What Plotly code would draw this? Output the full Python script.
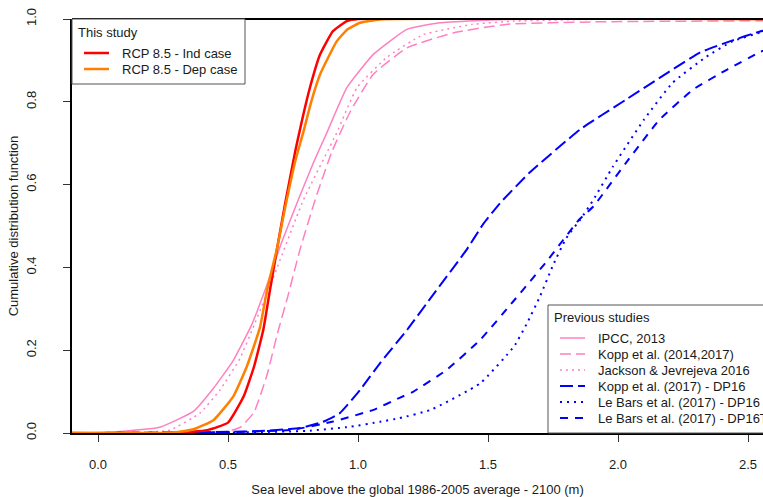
import plotly.graph_objects as go

# ---------------- data ----------------
x_ind = [-0.1, 0.3, 0.42, 0.5, 0.56, 0.6, 0.636, 0.66, 0.69, 0.72, 0.76, 0.79, 0.815, 0.854, 0.904, 0.957, 1.0, 2.6]
y_ind = [0, 0, 0.007, 0.025, 0.088, 0.16, 0.25, 0.34, 0.45, 0.555, 0.685, 0.77, 0.834, 0.914, 0.971, 0.995, 1.0, 1.0]

x_dep = [-0.1, 0.2, 0.3, 0.367, 0.444, 0.52, 0.572, 0.623, 0.65, 0.69, 0.72, 0.76, 0.789, 0.82, 0.854, 0.918, 0.96, 1.008, 1.085, 2.6]
y_dep = [0, 0, 0.002, 0.009, 0.031, 0.088, 0.16, 0.255, 0.345, 0.45, 0.545, 0.66, 0.725, 0.80, 0.866, 0.946, 0.975, 0.991, 0.999, 1.0]

x_ipcc = [-0.1, 0.0, 0.11, 0.238, 0.367, 0.444, 0.52, 0.59, 0.65, 0.7, 0.77, 0.83, 0.88, 0.957, 1.058, 1.188, 1.315, 1.45, 1.57, 1.8, 2.6]
y_ipcc = [0, 0.001, 0.005, 0.014, 0.052, 0.108, 0.175, 0.26, 0.358, 0.45, 0.563, 0.655, 0.725, 0.834, 0.914, 0.975, 0.991, 0.996, 0.999, 1.0, 1.0]

x_kopp = [-0.1, 0.4, 0.5, 0.55, 0.6, 0.65, 0.69, 0.73, 0.777, 0.835, 0.9, 0.97, 1.058, 1.19, 1.37, 1.57, 1.9, 2.6]
y_kopp = [0, 0, 0.004, 0.015, 0.05, 0.14, 0.24, 0.33, 0.443, 0.563, 0.68, 0.776, 0.866, 0.931, 0.967, 0.987, 0.993, 0.996]

x_jj = [-0.1, 0.15, 0.277, 0.392, 0.469, 0.546, 0.6, 0.668, 0.79, 0.918, 0.996, 1.11, 1.25, 1.44, 1.6, 1.9, 2.6]
y_jj = [0, 0, 0.007, 0.048, 0.104, 0.18, 0.26, 0.365, 0.563, 0.725, 0.834, 0.907, 0.962, 0.987, 0.995, 0.999, 1.0]

x_kdp = [-0.1, 0.3, 0.6, 0.777, 0.865, 0.93, 1.008, 1.085, 1.19, 1.29, 1.418, 1.482, 1.546, 1.66, 1.854, 2.03, 2.19, 2.315, 2.43, 2.546, 2.6]
y_kdp = [0, 0.001, 0.004, 0.012, 0.027, 0.048, 0.104, 0.169, 0.25, 0.335, 0.443, 0.505, 0.555, 0.629, 0.733, 0.805, 0.870, 0.919, 0.946, 0.97, 0.975]

x_lb = [-0.1, 0.5, 0.8, 0.97, 1.085, 1.16, 1.28, 1.47, 1.6, 1.65, 1.7, 1.75, 1.8, 1.86, 1.905, 1.98, 2.1, 2.21, 2.34, 2.44, 2.546, 2.6]
y_lb = [0, 0.001, 0.005, 0.015, 0.027, 0.036, 0.056, 0.12, 0.209, 0.265, 0.33, 0.405, 0.47, 0.52, 0.563, 0.643, 0.757, 0.846, 0.909, 0.946, 0.967, 0.972]

x_lbt = [-0.1, 0.5, 0.75, 0.9, 1.06, 1.16, 1.21, 1.34, 1.47, 1.6, 1.73, 1.85, 1.905, 2.03, 2.16, 2.29, 2.42, 2.546, 2.6]
y_lbt = [0, 0.002, 0.008, 0.027, 0.056, 0.085, 0.099, 0.152, 0.225, 0.32, 0.418, 0.515, 0.547, 0.652, 0.757, 0.83, 0.878, 0.92, 0.935]

x_ticks = [0.0, 0.5, 1.0, 1.5, 2.0, 2.5]
x_tick_labels = ["0.0", "0.5", "1.0", "1.5", "2.0", "2.5"]
y_ticks = [0.0, 0.2, 0.4, 0.6, 0.8, 1.0]
y_tick_labels = ["0.0", "0.2", "0.4", "0.6", "0.8", "1.0"]

legend1_title = "This study"
legend2_title = "Previous studies"

# ---------------- styles ----------------
RED = "#FF0000"
ORANGE = "#FF7F00"
PINK = "#FF80C0"
BLUE = "#0000FF"
FONT = "Liberation Sans, Arial, sans-serif"
TXT = "#1a1a1a"

series = [
    # (x, y, name, color, width, dash, legend group)
    (x_ipcc, y_ipcc, "IPCC, 2013", PINK, 1.5, "solid", 2),
    (x_kopp, y_kopp, "Kopp et al. (2014,2017)", PINK, 1.5, "11px,5px", 2),
    (x_jj, y_jj, "Jackson & Jevrejeva 2016", PINK, 1.5, "2px,4px", 2),
    (x_kdp, y_kdp, "Kopp et al. (2017) - DP16", BLUE, 2, "13px,5px", 2),
    (x_lb, y_lb, "Le Bars et al. (2017) - DP16", BLUE, 2, "2px,5px", 2),
    (x_lbt, y_lbt, "Le Bars et al. (2017) - DP16T", BLUE, 2, "8px,7px", 2),
    (x_ind, y_ind, "RCP 8.5 - Ind case", RED, 2.5, "solid", 1),
    (x_dep, y_dep, "RCP 8.5 - Dep case", ORANGE, 2.5, "solid", 1),
]

W, H = 763, 497
L, R, T, B = 72, 0, 19, 64
PW = W - L - R
PH = H - T - B


def pxp(x):
    return (x - L) / PW


def pyp(y):
    return (H - B - y) / PH


fig = go.Figure()
for xs, ys, name, col, wd, dash, grp in series:
    fig.add_trace(go.Scatter(
        x=xs, y=ys, mode="lines", name=name, showlegend=False,
        line=dict(color=col, width=wd, dash=dash, shape="spline", smoothing=0.4),
        hoverinfo="skip",
    ))

shapes = []
annotations = []

# frame: top line (left and bottom drawn by axes)
shapes.append(dict(type="line", xref="paper", yref="paper", x0=0, x1=1.0, y0=1, y1=1,
                   line=dict(color="black", width=2)))

# legend 1
shapes.append(dict(type="rect", xref="paper", yref="paper",
                   x0=pxp(72), x1=pxp(245), y0=pyp(84), y1=pyp(19),
                   line=dict(color="#555555", width=1), fillcolor="white", layer="above"))
annotations.append(dict(xref="paper", yref="paper", x=pxp(76), y=pyp(32), text=legend1_title,
                        showarrow=False, xanchor="left", yanchor="middle",
                        font=dict(family=FONT, size=13, color=TXT)))
leg1 = [s for s in series if s[6] == 1]
for i, (xs, ys, name, col, wd, dash, grp) in enumerate(leg1):
    yy = 53 + 16 * i
    shapes.append(dict(type="line", xref="paper", yref="paper", x0=pxp(84), x1=pxp(109),
                       y0=pyp(yy), y1=pyp(yy), line=dict(color=col, width=wd, dash=dash), layer="above"))
    annotations.append(dict(xref="paper", yref="paper", x=pxp(120), y=pyp(yy), text=name,
                            showarrow=False, xanchor="left", yanchor="middle",
                            font=dict(family=FONT, size=13, color=TXT)))

# legend 2
shapes.append(dict(type="rect", xref="paper", yref="paper",
                   x0=pxp(548), x1=pxp(775), y0=pyp(433), y1=pyp(305),
                   line=dict(color="#555555", width=1), fillcolor="white", layer="above"))
annotations.append(dict(xref="paper", yref="paper", x=pxp(552), y=pyp(317), text=legend2_title,
                        showarrow=False, xanchor="left", yanchor="middle",
                        font=dict(family=FONT, size=13, color=TXT)))
leg2 = [s for s in series if s[6] == 2]
for i, (xs, ys, name, col, wd, dash, grp) in enumerate(leg2):
    yy = 338 + 16 * i
    shapes.append(dict(type="line", xref="paper", yref="paper", x0=pxp(560), x1=pxp(585),
                       y0=pyp(yy), y1=pyp(yy), line=dict(color=col, width=wd, dash=dash), layer="above"))
    annotations.append(dict(xref="paper", yref="paper", x=pxp(596), y=pyp(yy), text=name,
                            showarrow=False, xanchor="left", yanchor="middle",
                            font=dict(family=FONT, size=13, color=TXT)))

fig.update_layout(
    width=W, height=H,
    margin=dict(l=L, r=R, t=T, b=B, pad=0, autoexpand=False),
    paper_bgcolor="white", plot_bgcolor="white",
    font=dict(family=FONT, size=13, color=TXT),
    showlegend=False,
    shapes=shapes, annotations=annotations,
    xaxis=dict(
        range=[-0.1, -0.1 + PW / 260.0], showgrid=False, zeroline=False, automargin=False,
        showline=True, linecolor="black", linewidth=2,
        ticks="outside", ticklen=7, tickwidth=1, tickcolor="#333",
        tickvals=x_ticks, ticktext=x_tick_labels, ticklabelstandoff=11,
        title=dict(text="Sea level above the global 1986-2005 average - 2100 (m)",
                   font=dict(size=13), standoff=14),
    ),
    yaxis=dict(
        range=[0, 1], showgrid=False, zeroline=False, automargin=False,
        showline=True, linecolor="black", linewidth=2,
        ticks="outside", ticklen=7, tickwidth=1, tickcolor="#333",
        tickvals=y_ticks, ticktext=y_tick_labels, tickangle=-90, ticklabelstandoff=22,
        title=dict(text="Cumulative distribution function", font=dict(size=13), standoff=2),
    ),
)

fig.write_html(
    "out.html",
    config={"displayModeBar": False, "staticPlot": True},
    post_script="document.body.style.margin='0';document.body.style.overflow='hidden';",
)
